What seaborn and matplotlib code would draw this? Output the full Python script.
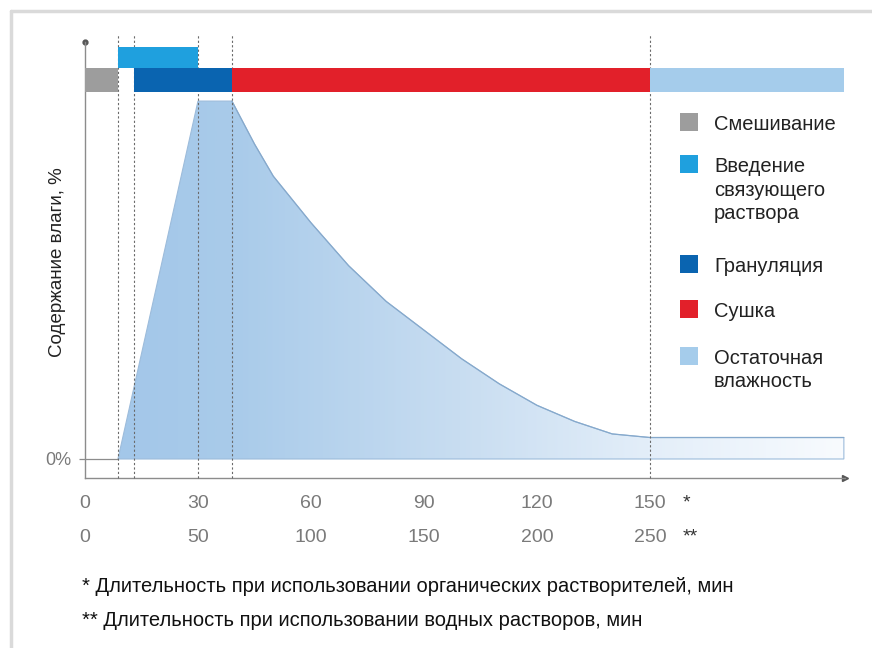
import numpy as np
import seaborn as sns
import matplotlib.pyplot as plt
from matplotlib.colors import LinearSegmentedColormap
from matplotlib.patches import Polygon, Rectangle
from matplotlib.lines import Line2D

# process stages, time in minutes (organic solvents scale)
stage_names = ["Смешивание", "Введение\nсвязующего\nраствора", "Грануляция", "Сушка",
               "Остаточная\nвлажность"]
stage_start = [0, 8.75, 13, 39, 150]
stage_end = [8.75, 30, 39, 150, 201.5]
stage_upper = [False, True, False, False, False]
stage_colors = ["#9d9d9d", "#1fa0de", "#0a64b0", "#e2202a", "#a5cceb"]

# moisture content curve (relative units, peak = 100)
moist_t = [8.75, 30, 39, 45, 50, 60, 70, 80, 90, 100, 110, 120, 130, 140, 150, 201.5]
moist_v = [0, 100, 100, 88, 79, 66, 54, 44, 36, 28, 21, 15, 10.5, 7, 6, 6]

phase_marks = [8.75, 13, 30, 39, 150]

ticks_org = [0, 30, 60, 90, 120, 150]   # *  organic solvents, min
ticks_aq = [0, 50, 100, 150, 200, 250]  # ** aqueous solutions, min

sns.set_theme(style="white")
fam = ["Liberation Sans Narrow", "Liberation Sans", "DejaVu Sans"]
plt.rcParams["font.family"] = fam

fig = plt.figure(figsize=(8.72, 6.48), dpi=100)
ax = fig.add_axes([85 / 872, 1 - 478 / 648, 760 / 872, 436 / 648])
ax.set_facecolor("none")

# gradient fill under the moisture curve
cmap = LinearSegmentedColormap.from_list(
    "moist", [(0, "#a3c7e9"), (0.16, "#a9cbea"), (0.47, "#c8ddf1"), (0.73, "#e3eef9"), (1, "#f8fbfe")])
grad = np.linspace(0, 1, 400).reshape(1, -1)
img = ax.imshow(grad, extent=[moist_t[0], moist_t[-1], 0, 100], aspect="auto",
                cmap=cmap, zorder=1, origin="lower")
verts = list(zip(moist_t, moist_v)) + [(moist_t[-1], 0)]
poly = Polygon(verts, closed=True, facecolor="none",
               edgecolor="#9dbcdb", lw=0.8, zorder=2)
ax.add_patch(poly)
img.set_clip_path(poly)
sns.lineplot(x=moist_t[2:], y=moist_v[2:], sort=False, estimator=None,
             color="#86a9cc", lw=0.9, ax=ax, zorder=2)
ax.hlines(0, -1.5, moist_t[0], color="#8c8c8c", lw=0.9, zorder=2, clip_on=False)

# stage bars
for s, e, up, c in zip(stage_start, stage_end, stage_upper, stage_colors):
    if up:
        ax.barh(112.15, e - s, left=s, height=5.9, color=c, zorder=4, lw=0)
    else:
        ax.barh(105.85, e - s, left=s, height=6.7, color=c, zorder=4, lw=0)

# dashed phase markers
ax.vlines(phase_marks, -5.3, 118.5, colors="#6a6a6a", lw=0.8,
          linestyles=(0, (2, 2)), zorder=3, clip_on=False)

ax.set_xlim(0, 201.8)
ax.set_ylim(-5.31, 116.5)

for side in ["top", "right"]:
    ax.spines[side].set_visible(False)
for side in ["left", "bottom"]:
    ax.spines[side].set_color("#8c8c8c")
    ax.spines[side].set_linewidth(1.0)
ax.plot([1], [0], marker=">", ms=4, color="#555555", transform=ax.transAxes, clip_on=False)
ax.plot([0], [1], marker="o", ms=3.5, color="#555555", transform=ax.transAxes, clip_on=False)

lab_col = "#7a7a7a"
ax.set_xticks(ticks_org)
ax.set_xticklabels([str(t) for t in ticks_org])
ax.tick_params(axis="x", direction="inout", length=6, width=0.8, color="#8c8c8c",
               labelsize=14, labelcolor=lab_col, pad=9.5)
ax.set_yticks([0])
ax.set_yticklabels(["0%"])
ax.tick_params(axis="y", direction="out", length=6, width=0.8, color="#8c8c8c",
               labelsize=13, labelcolor=lab_col, pad=4)

secax = ax.secondary_xaxis(-33 / 436, functions=(lambda x: x * 5 / 3, lambda x: x * 3 / 5))
secax.set_xticks(ticks_aq)
secax.set_xticklabels([str(t) for t in ticks_aq])
secax.tick_params(length=0, labelsize=14, labelcolor=lab_col, pad=13)
secax.spines["bottom"].set_visible(False)

ax.text(158.7, -12.4, "*", fontsize=14, color="#333333", ha="left", va="center", clip_on=False)
ax.text(158.7, -21.8, "**", fontsize=14, color="#333333", ha="left", va="center", clip_on=False)

fig.text(58 / 872, 1 - 262 / 648, "Содержание влаги, %", rotation=90, fontsize=13.5,
         color="#222222", ha="center", va="center")

# legend drawn by hand: square aligned to the first text line
leg_y = [122, 164, 264, 309, 356]
for name, c, y in zip(stage_names, stage_colors, leg_y):
    fig.patches.append(Rectangle((680 / 872, 1 - (y + 9) / 648), 18 / 872, 18 / 648,
                                 transform=fig.transFigure, color=c, lw=0))
    fig.text(714 / 872, 1 - (y - 7) / 648, name, fontsize=14.5, color="#222222",
             ha="left", va="top", linespacing=1.3)

fig.text(82 / 872, 1 - 586 / 648,
         "* Длительность при использовании органических растворителей, мин",
         fontsize=14.5, color="#111111", ha="left", va="center")
fig.text(82 / 872, 1 - 620 / 648,
         "** Длительность при использовании водных растворов, мин",
         fontsize=14.5, color="#111111", ha="left", va="center")

# frame of the picture (top and left edges)
fig.add_artist(Line2D([11 / 872, 11 / 872], [0, 1 - 11 / 648], color="#dadada", lw=2.5,
                      transform=fig.transFigure))
fig.add_artist(Line2D([11 / 872, 1], [1 - 11 / 648, 1 - 11 / 648], color="#dadada", lw=2.5,
                      transform=fig.transFigure))

fig.savefig("out.png", dpi=100)
